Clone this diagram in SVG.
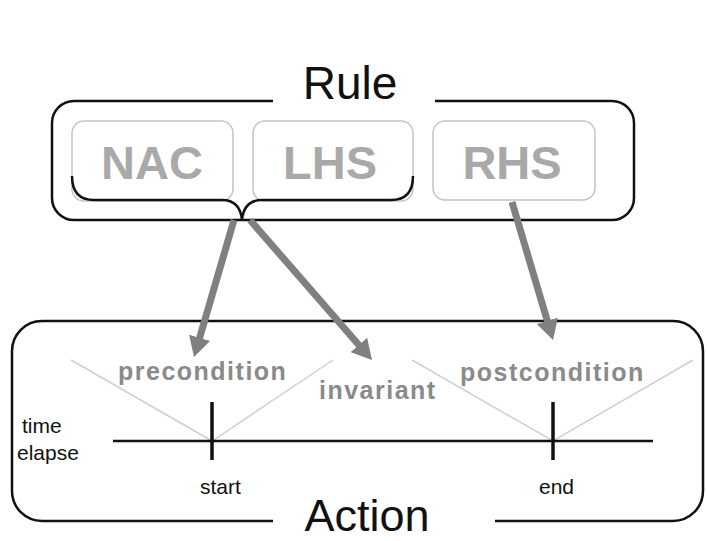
<svg xmlns="http://www.w3.org/2000/svg" width="707" height="541" viewBox="0 0 707 541">
<style>
.frame{fill:none;stroke:#111;stroke-width:2.5}
.part{fill:#fff;stroke:#c4c4c4;stroke-width:1.5}
.big{font-family:"Liberation Sans",Arial,sans-serif;font-size:46px;fill:#111;text-anchor:middle}
.part-t{font-family:"Liberation Sans",Arial,sans-serif;font-size:47px;font-weight:bold;fill:#a9a9a9;text-anchor:middle}
.cond{font-family:"Liberation Sans",Arial,sans-serif;font-size:25px;font-weight:bold;fill:#8a8a8a;letter-spacing:1.5px}
.small{font-family:"Liberation Sans",Arial,sans-serif;font-size:21px;fill:#111}
.vline{fill:none;stroke:#cfcfcf;stroke-width:1.5}
.tick{stroke:#111;stroke-width:3.5}
.axis{stroke:#111;stroke-width:2.5}
.arrow{stroke:#808080;stroke-width:7;fill:none;marker-end:url(#ah)}
</style>
<defs>
<marker id="ah" markerUnits="userSpaceOnUse" viewBox="0 0 20 22" markerWidth="20" markerHeight="22" refX="8" refY="11" orient="auto">
<path d="M0,0 L20,11 L0,22 z" fill="#808080"/>
</marker>
</defs>
<rect width="707" height="541" fill="#fff"/>

<g id="rule">
<path class="frame" d="M273 101 L74 101 A22 22 0 0 0 52 123 L52 198 A22 22 0 0 0 74 220 L612 220 A22 22 0 0 0 634 198 L634 123 A22 22 0 0 0 612 101 L435 101"/>
<text class="big" x="350" y="99">Rule</text>
</g>

<g id="nac">
<rect class="part" x="72" y="121" width="161" height="80" rx="12"/>
<text class="part-t" x="152" y="179">NAC</text>
</g>
<g id="lhs">
<rect class="part" x="253" y="121" width="160" height="80" rx="12"/>
<text class="part-t" x="330" y="179">LHS</text>
</g>
<g id="rhs">
<rect class="part" x="433" y="121" width="162" height="79" rx="12"/>
<text class="part-t" x="512" y="179">RHS</text>
</g>
<g id="brace">
<path class="frame" stroke-width="2" d="M72 176 Q72 200 94 200 L222 200 Q240 200 242 220 Q244 200 262 200 L391 200 Q413 200 413 176"/>
</g>

<g id="action">
<path class="frame" d="M273 521 L42 521 A30 30 0 0 1 12 491 L12 351 A30 30 0 0 1 42 321 L673 321 A30 30 0 0 1 703 351 L703 491 A30 30 0 0 1 673 521 L495 521"/>
<text class="big" x="367" y="531" style="font-size:45px">Action</text>
</g>

<g id="timeline">
<polyline class="vline" points="71,360 212,441 333,360"/>
<polyline class="vline" points="412,360 553,441 693,360"/>
<line class="axis" x1="113" y1="441" x2="653" y2="441"/>
<line class="tick" x1="212" y1="402" x2="212" y2="460"/>
<line class="tick" x1="553" y1="402" x2="553" y2="460"/>
<text class="small" x="22" y="433">time</text>
<text class="small" x="17" y="460">elapse</text>
<text class="small" x="200" y="494">start</text>
<text class="small" x="539" y="494">end</text>
</g>

<g id="precondition"><text class="cond" x="118" y="380">precondition</text></g>
<g id="invariant"><text class="cond" x="319" y="399">invariant</text></g>
<g id="postcondition"><text class="cond" x="460" y="381">postcondition</text></g>

<g id="connectors">
<line class="arrow" x1="234" y1="220" x2="197.4" y2="345.5"/>
<line class="arrow" x1="250" y1="220" x2="364.1" y2="351"/>
<line class="arrow" x1="512" y1="202" x2="549.6" y2="328.5"/>
</g>
</svg>
